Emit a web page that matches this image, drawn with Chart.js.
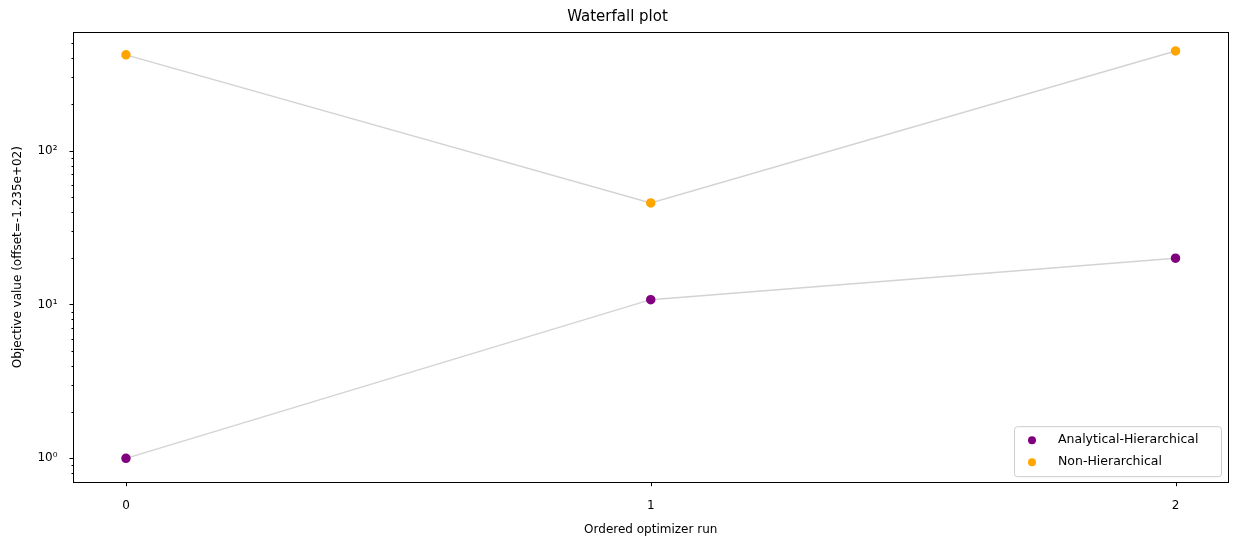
<!DOCTYPE html>
<html><head><script src="https://cdn.jsdelivr.net/npm/chart.js@4"></script>
<style>body{margin:0;background:#fff}#w{width:1237px;height:547px}</style></head>
<body><div id="w"><canvas id="c"></canvas></div>
<script>
const runs=[0,1,2];
const analytical=[1.0,10.75,20.0];
const nonHier=[419,45.7,444];
const seriesNames=['Analytical-Hierarchical','Non-Hierarchical'];
const colors=['#800080','#FFA500'];
Chart.defaults.font={family:'DejaVu Sans',size:12};Chart.defaults.color='#000';
const mk=(vals,i)=>({label:seriesNames[i],data:runs.map((x,k)=>({x,y:vals[k]})),showLine:true,borderColor:'#d3d3d3',borderWidth:1.5,pointBackgroundColor:colors[i],pointBorderColor:colors[i],pointRadius:4,pointHoverRadius:4});
const framePlugin={id:'fr',afterDraw(ch){const c=ch.ctx,a=ch.chartArea;c.save();c.strokeStyle='#000';c.lineWidth=1;
c.strokeRect(Math.round(a.left)+0.5,Math.round(a.top)+0.5,Math.round(a.right-a.left),Math.round(a.bottom-a.top));
c.beginPath();ch.scales.x.ticks.forEach(t=>{const x=Math.round(ch.scales.x.getPixelForValue(t.value))+0.5;c.moveTo(x,a.bottom);c.lineTo(x,a.bottom+4);});
ch.scales.y.ticks.forEach(t=>{const y=Math.round(ch.scales.y.getPixelForValue(t.value))+0.5;const l=Math.log10(t.value);const major=Math.abs(l-Math.round(l))<1e-9;c.moveTo(a.left,y);c.lineTo(a.left-(major?4:2),y);});
c.stroke();
const w=207,h=50,x=a.right-w-7,y=a.bottom-h-6;
c.fillStyle='rgba(255,255,255,0.8)';c.strokeStyle='#ccc';c.beginPath();c.roundRect(x+0.5,y+0.5,w,h,3);c.fill();c.stroke();
c.font='12.5px DejaVu Sans';c.textBaseline='middle';
seriesNames.forEach((n,i)=>{const yy=y+14+i*22;c.fillStyle=colors[i];c.beginPath();c.arc(x+18,yy,4,0,Math.PI*2);c.fill();c.fillStyle='#000';c.fillText(n,x+44,yy);});c.restore();}};
new Chart(document.getElementById('c'),{type:'scatter',data:{datasets:[mk(analytical,0),mk(nonHier,1)]},
options:{responsive:true,maintainAspectRatio:false,animation:false,
layout:{padding:{left:7,right:9,top:0,bottom:6}},
plugins:{legend:{display:false},tooltip:{enabled:false},title:{display:true,text:'Waterfall plot',font:{family:'DejaVu Sans',size:15,weight:'normal'},color:'#000',padding:{top:8,bottom:6}}},
scales:{x:{type:'linear',min:-0.1,max:2.1,grid:{display:false},border:{display:false},
afterBuildTicks:s=>{s.ticks=runs.map(v=>({value:v}));},ticks:{callback:v=>v,padding:8},
title:{display:true,text:'Ordered optimizer run',padding:{top:2}}},
y:{type:'logarithmic',min:0.738,max:590,grid:{display:false},border:{display:false},
afterBuildTicks:s=>{const t=[];for(let e=-1;e<3;e++)for(let m=1;m<10;m++){const v=m*Math.pow(10,e);if(v>=0.738&&v<=590)t.push({value:v});}s.ticks=t;},
ticks:{autoSkip:false,padding:8,callback:v=>{const l=Math.log10(v);return Math.abs(l-Math.round(l))<1e-9?'10'+['⁰','¹','²'][Math.round(l)]:'';}},
title:{display:true,text:'Objective value (offset=-1.235e+02)'}}}},
plugins:[framePlugin]});
</script></body></html>
